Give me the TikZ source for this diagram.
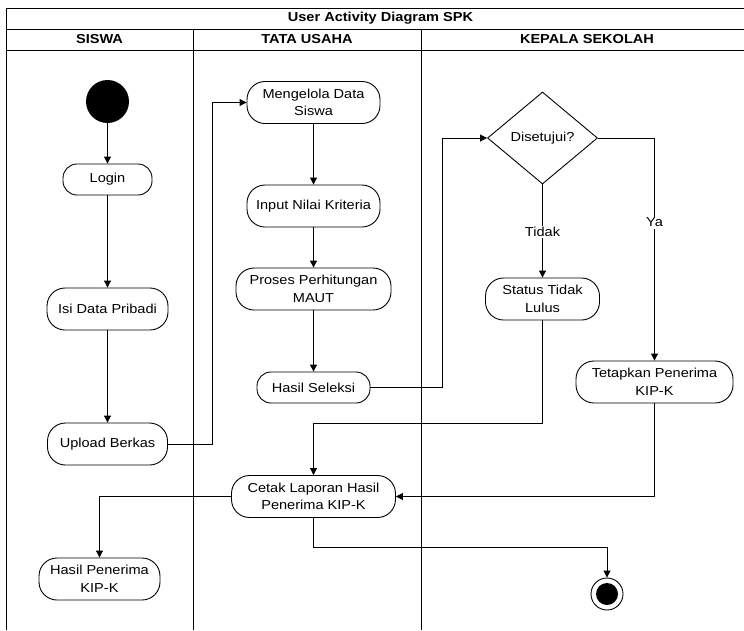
\documentclass[tikz,border=0pt]{standalone}
\usepackage{fontspec}
\setmainfont{Liberation Sans}[FakeStretch=1.12]
\usetikzlibrary{arrows.meta,shapes.geometric}
\begin{document}
\begin{tikzpicture}[x=1pt,y=-1pt,
  frameline/.style={draw=black, line width=0.9pt},
  conn/.style={draw=black, line width=0.9pt},
  arr/.style={conn, -{Triangle[length=7pt,width=7pt]}},
  act/.style={draw=black, line width=0.9pt, rounded corners=18pt, align=center,
    font=\fontsize{13}{17.5}\selectfont, inner sep=1pt, fill=white, minimum height=42pt},
  decision/.style={draw=black, line width=0.9pt, diamond, inner sep=0pt, align=center,
    font=\fontsize{13}{17.5}\selectfont, minimum width=110pt, minimum height=92pt},
  lbl/.style={fill=white, font=\fontsize{13}{17.5}\selectfont, inner sep=1.5pt},
  hdr/.style={font=\bfseries\fontsize{13}{16}\selectfont}
]
\useasboundingbox (0,0) rectangle (744,630);
% swimlane frame
\draw[frameline] (6,630) -- (6,8) -- (744,8);
\draw[frameline] (6,29) -- (744,29);
\draw[frameline] (6,50) -- (744,50);
\draw[frameline] (193,29) -- (193,630);
\draw[frameline] (421,29) -- (421,630);
\node[hdr] (title) at (380.5,18.5) {User Activity Diagram SPK};
\node[hdr] (h1) at (99.5,39.5) {SISWA};
\node[hdr] (h2) at (307,39.5) {TATA USAHA};
\node[hdr] (h3) at (587,39.5) {KEPALA SEKOLAH};

% SISWA lane
\node[circle, fill=black, minimum size=43pt, inner sep=0pt] (start) at (107.5,101.5) {};
\node[act, minimum width=89pt, minimum height=31pt, rounded corners=14pt] (login) at (107.5,179.5) {Login};
\node[act, minimum width=121pt] (isi) at (107.5,309) {Isi Data Pribadi};
\node[act, minimum width=120pt] (upload) at (107.5,444) {Upload Berkas};
\node[act, minimum width=121pt] (hasilp) at (99.5,579) {Hasil Penerima\\KIP-K};

% TATA USAHA lane
\node[act, minimum width=133pt] (kelola) at (313.5,102.5) {Mengelola Data\\Siswa};
\node[act, minimum width=133pt] (input) at (313.5,206) {Input Nilai Kriteria};
\node[act, minimum width=155pt] (proses) at (313.5,289) {Proses Perhitungan\\MAUT};
\node[act, minimum width=113pt, minimum height=31pt, rounded corners=14pt] (hasil) at (313.5,387.5) {Hasil Seleksi};
\node[act, minimum width=164pt] (cetak) at (313.5,496.5) {Cetak Laporan Hasil\\Penerima KIP-K};

% KEPALA SEKOLAH lane
\node[decision] (dec) at (542.5,138) {Disetujui?};
\node[act, minimum width=114pt] (status) at (542.5,299) {Status Tidak\\Lulus};
\node[act, minimum width=157pt] (tetap) at (654.5,382) {Tetapkan Penerima\\KIP-K};
\node[circle, draw=black, line width=0.9pt, minimum size=32pt, inner sep=0pt] (end) at (607,594) {};
\node[circle, fill=black, minimum size=22pt, inner sep=0pt] (endin) at (end.center) {};

% connectors
\draw[arr] (start) -- (login);
\draw[arr] (login) -- (isi);
\draw[arr] (isi) -- (upload);
\draw[arr] (upload.east) -| ([xshift=-34pt]kelola.west) -- (kelola.west);
\draw[arr] (kelola) -- (input);
\draw[arr] (input) -- (proses);
\draw[arr] (proses) -- (hasil);
\draw[arr] (hasil.east) -| ([xshift=-45pt]dec.west) -- (dec.west);
\draw[arr] (dec.south) -- node[lbl, pos=0.51] {Tidak} (status.north);
\draw[arr] (dec.east) -| node[lbl, pos=0.69] {Ya} (tetap.north);
\draw[arr] (status.south) |- ([yshift=52pt]cetak.north) -- (cetak.north);
\draw[arr] (tetap.south) |- (cetak.east);
\draw[arr] (cetak.west) -| (hasilp.north);
\draw[arr] (cetak.south) |- ([yshift=30pt]end.north) -- (end.north);
\end{tikzpicture}
\end{document}
